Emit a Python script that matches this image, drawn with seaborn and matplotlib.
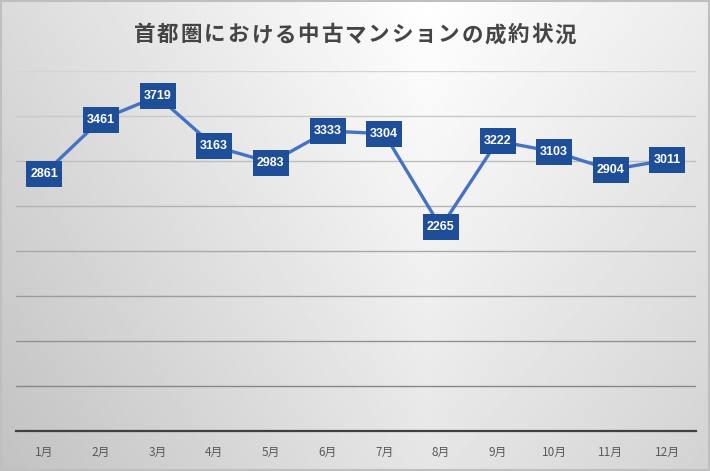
import numpy as np
import pandas as pd
import matplotlib
matplotlib.use("Agg")
import matplotlib.pyplot as plt
import matplotlib.transforms as mtransforms
from matplotlib.patches import Rectangle
import seaborn as sns

months = ["1月", "2月", "3月", "4月", "5月", "6月", "7月", "8月", "9月", "10月", "11月", "12月"]
values = [2861, 3461, 3719, 3163, 2983, 3333, 3304, 2265, 3222, 3103, 2904, 3011]
title = "首都圏における中古マンションの成約状況"

sns.set_theme(style="white")
plt.rcParams['font.family'] = ['Noto Sans CJK JP', 'DejaVu Sans']

df = pd.DataFrame({"month": months, "value": values})

W, H = 7.1, 4.71
fig = plt.figure(figsize=(W, H), dpi=100)

# gradient background (bright near top centre, darker to the edges / bottom)
bg = fig.add_axes([0, 0, 1, 1], zorder=-10)
yy, xx = np.mgrid[1:0:300j, 0:1:400j]
shade = 1 - 0.14 * np.abs(xx - 0.6) / 0.6 * np.where(xx > 0.6, 0.8, 1.0) - 0.1 * (1 - yy)
bg.imshow(shade, cmap="gray", vmin=0, vmax=1, aspect="auto", extent=[0, 1, 0, 1], origin="upper")
bg.set_xlim(0, 1)
bg.set_ylim(0, 1)
bg.set_axis_off()
bg.add_patch(Rectangle((0.001, 0.002), 0.998, 0.996, transform=bg.transAxes, fill=False,
                       edgecolor="#bfbfbf", lw=1.5))

ax = fig.add_axes([0.0225, 0.0849, 0.9575, 0.7643])
ax.patch.set_alpha(0)

sns.lineplot(data=df, x="month", y="value", ax=ax, color="#4472C4", lw=2.4, sort=False)

ax.set_ylim(0, 4000)
ax.set_xlim(-0.5, 11.5)
levels = list(range(500, 4001, 500))
for lv in levels:
    g = 0.53 + (0.83 - 0.53) * (lv - 500) / 3500
    ax.axhline(lv, color=(g, g, g), lw=1, zorder=0)
ax.tick_params(axis="y", left=False, labelleft=False)
ax.tick_params(axis="x", bottom=False, labelsize=8.5, labelcolor="#595959", pad=5)
for s in ["left", "right", "top"]:
    ax.spines[s].set_visible(False)
ax.spines["bottom"].set_color("#404040")
ax.spines["bottom"].set_linewidth(1.6)
ax.set_xlabel("")
ax.set_ylabel("")

bw, bh = 0.36, 0.26  # box size in inches
for i, v in enumerate(values):
    tr = fig.dpi_scale_trans + mtransforms.ScaledTranslation(i, v, ax.transData)
    ax.add_patch(Rectangle((-bw / 2, -bh / 2), bw, bh, transform=tr, fc="#1F4E99",
                           ec="none", zorder=4, clip_on=False))
    ax.text(i, v, f"{v}", ha="center", va="center", color="white", fontsize=9,
            fontweight="bold", family=["Liberation Sans", "DejaVu Sans"], zorder=5)

# letter-spaced title
step = 23.4 / (W * 100)
n = len(title)
x0 = 0.5 - step * (n - 1) / 2
for k, ch in enumerate(title):
    fig.text(x0 + k * step, 0.926, ch, ha="center", va="center", fontsize=15.5,
             color="#454545", fontweight="bold")

fig.savefig("out.png", dpi=100)
